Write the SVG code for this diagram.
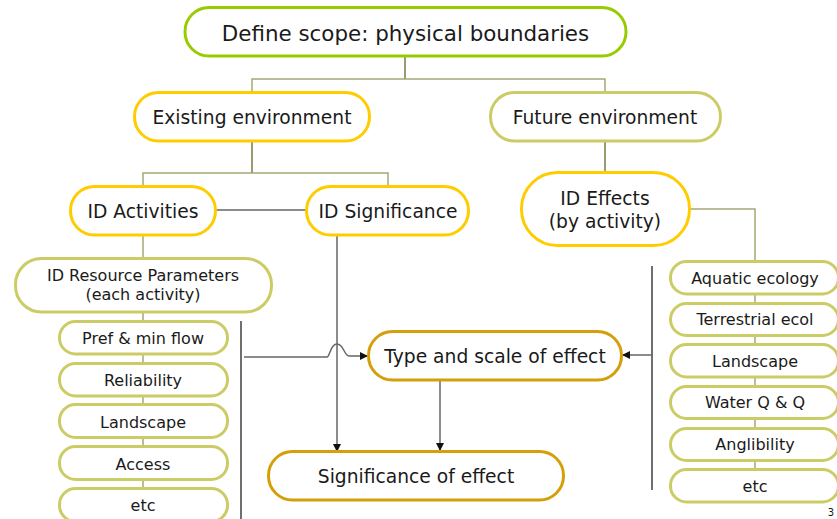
<svg xmlns="http://www.w3.org/2000/svg" width="837" height="519" viewBox="0 0 837 519">
<defs>
<marker id="arr" viewBox="0 0 10 10" refX="10" refY="5" markerWidth="8" markerHeight="8" markerUnits="userSpaceOnUse" orient="auto">
<path d="M0,0 L10,5 L0,10 z" fill="#111"/>
</marker>
<style>
text{font-family:"DejaVu Sans","Liberation Sans",sans-serif;fill:#1a1a1a;text-anchor:middle}
.n{fill:#fff;stroke-width:3}
.green{stroke:#99CC00}
.gold{stroke:#FFCC00}
.olive{stroke:#CCCC66}
.dgold{stroke:#D49F0A}
.t1{font-size:21.4px}
.t2{font-size:18.7px}
.t3{font-size:16px}
.tree{fill:none;stroke:#A6A677;stroke-width:1.5}
.treed{fill:none;stroke:#7A7A40;stroke-width:1.5}
.gray{fill:none;stroke:#666;stroke-width:1.5}
.blk{fill:none;stroke:#222;stroke-width:1.3}
</style>
</defs>
<rect width="837" height="519" fill="#fff"/>
<g id="connectors">
<path class="treed" d="M405,56 V79"/>
<path class="tree" d="M252,92 V79 H605 V92"/>
<path class="treed" d="M252,141 V173"/>
<path class="tree" d="M143,186 V173 H388 V186"/>
<path class="treed" d="M605,141 V172"/>
<path class="gray" d="M216,210 H306"/>
<path class="tree" d="M690,209 H755 V261"/>
<path class="tree" d="M143,235 V258"/>
<path class="tree" d="M143,312 V321 M143,354 V363 M143,396 V404 M143,438 V446 M143,480 V488"/>
<path class="tree" d="M755,294 V303 M755,335 V344 M755,377 V386 M755,418 V428 M755,460 V469"/>
<path class="blk" d="M241,321 V519"/>
<path class="blk" d="M652,266 V490"/>
<path class="gray" d="M337,235 V452" marker-end="url(#arr)"/>
<path class="gray" d="M244,357 H327 C330,357 330,344 337,344 C344,344 344,356 349,356 H368" marker-end="url(#arr)"/>
<path class="gray" d="M652,355 H622" marker-end="url(#arr)"/>
<path class="gray" d="M440,380 V451" marker-end="url(#arr)"/>
</g>
<g id="n-scope"><rect class="n green" x="185" y="7.5" width="441" height="48.5" rx="24"/><text class="t1" x="405.5" y="40.5">Define scope: physical boundaries</text></g>
<g id="n-existing"><rect class="n gold" x="134.5" y="92.5" width="235" height="48.5" rx="24"/><text class="t2" x="252" y="124">Existing environment</text></g>
<g id="n-future"><rect class="n olive" x="490.5" y="92.5" width="230" height="48.5" rx="24"/><text class="t2" x="605" y="124">Future environment</text></g>
<g id="n-activities"><rect class="n gold" x="70.5" y="186.5" width="145" height="48.5" rx="24"/><text class="t2" x="143" y="218">ID Activities</text></g>
<g id="n-significance"><rect class="n gold" x="306.5" y="186.5" width="162" height="48.5" rx="24"/><text class="t2" x="388" y="218">ID Significance</text></g>
<g id="n-effects"><rect class="n gold" x="521.5" y="172.5" width="168" height="73" rx="36"/><text class="t2" x="605" y="205">ID Effects</text><text class="t2" x="605" y="228">(by activity)</text></g>
<g id="n-resource"><rect class="n olive" x="15.5" y="258.5" width="256" height="53.5" rx="26"/><text class="t3" x="143" y="281">ID Resource Parameters</text><text class="t3" x="143" y="300">(each activity)</text></g>
<g id="n-pref"><rect class="n olive" x="59.5" y="321.5" width="168" height="32.5" rx="16"/><text class="t3" x="143" y="344">Pref &amp; min flow</text></g>
<g id="n-reliability"><rect class="n olive" x="59.5" y="363.5" width="168" height="32.5" rx="16"/><text class="t3" x="143" y="386">Reliability</text></g>
<g id="n-landscape1"><rect class="n olive" x="59.5" y="404.5" width="168" height="33" rx="16"/><text class="t3" x="143" y="428">Landscape</text></g>
<g id="n-access"><rect class="n olive" x="59.5" y="446.5" width="168" height="33" rx="16"/><text class="t3" x="143" y="470">Access</text></g>
<g id="n-etc1"><rect class="n olive" x="59.5" y="488.5" width="168" height="33" rx="16"/><text class="t3" x="143" y="511">etc</text></g>
<g id="n-type"><rect class="n dgold" x="368.5" y="331.5" width="253" height="48.5" rx="24"/><text class="t2" x="495" y="363">Type and scale of effect</text></g>
<g id="n-sigeffect"><rect class="n dgold" x="268.5" y="451.5" width="295" height="48.5" rx="24"/><text class="t2" x="416" y="483">Significance of effect</text></g>
<g id="n-aquatic"><rect class="n olive" x="670.5" y="261.5" width="168" height="32.5" rx="16"/><text class="t3" x="755" y="284">Aquatic ecology</text></g>
<g id="n-terrestrial"><rect class="n olive" x="670.5" y="303.5" width="168" height="32" rx="16"/><text class="t3" x="755" y="325">Terrestrial ecol</text></g>
<g id="n-landscape2"><rect class="n olive" x="670.5" y="344.5" width="168" height="32.5" rx="16"/><text class="t3" x="755" y="367">Landscape</text></g>
<g id="n-water"><rect class="n olive" x="670.5" y="386.5" width="168" height="32" rx="16"/><text class="t3" x="755" y="408">Water Q &amp; Q</text></g>
<g id="n-anglibility"><rect class="n olive" x="670.5" y="428.5" width="168" height="32" rx="16"/><text class="t3" x="755" y="450">Anglibility</text></g>
<g id="n-etc2"><rect class="n olive" x="670.5" y="469.5" width="168" height="32.5" rx="16"/><text class="t3" x="755" y="492">etc</text></g>
<text x="831" y="516" style="font-size:10px">3</text>
</svg>
